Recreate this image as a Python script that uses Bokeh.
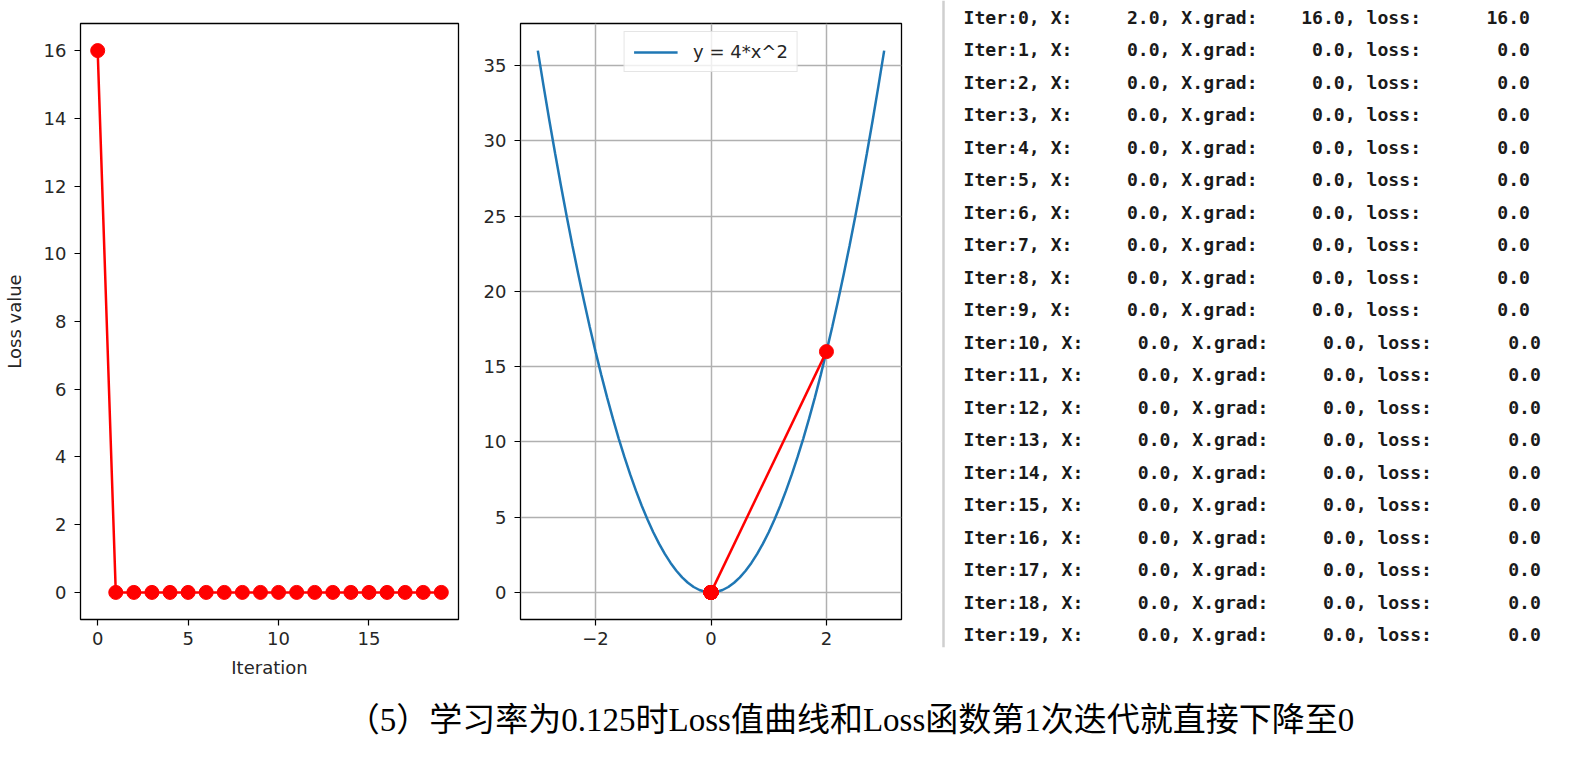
from bokeh.plotting import figure
from bokeh.models import Range1d, FixedTicker, Legend, LegendItem, ColumnDataSource
from bokeh.layouts import column, row
from bokeh.embed import file_html
from bokeh.resources import INLINE
from bokeh.core.properties import value

# ---------------- data ----------------
iterations = [0, 1, 2, 3, 4, 5, 6, 7, 8, 9, 10, 11, 12, 13, 14, 15, 16, 17, 18, 19]
x_values = [2.0, 0.0, 0.0, 0.0, 0.0, 0.0, 0.0, 0.0, 0.0, 0.0,
            0.0, 0.0, 0.0, 0.0, 0.0, 0.0, 0.0, 0.0, 0.0, 0.0]
grad_values = [16.0, 0.0, 0.0, 0.0, 0.0, 0.0, 0.0, 0.0, 0.0, 0.0,
               0.0, 0.0, 0.0, 0.0, 0.0, 0.0, 0.0, 0.0, 0.0, 0.0]
loss_values = [16.0, 0.0, 0.0, 0.0, 0.0, 0.0, 0.0, 0.0, 0.0, 0.0,
               0.0, 0.0, 0.0, 0.0, 0.0, 0.0, 0.0, 0.0, 0.0, 0.0]

curve_x = [-3.0, -2.9, -2.8, -2.7, -2.6, -2.5, -2.4, -2.3, -2.2, -2.1,
           -2.0, -1.9, -1.8, -1.7, -1.6, -1.5, -1.4, -1.3, -1.2, -1.1,
           -1.0, -0.9, -0.8, -0.7, -0.6, -0.5, -0.4, -0.3, -0.2, -0.1,
           0.0, 0.1, 0.2, 0.3, 0.4, 0.5, 0.6, 0.7, 0.8, 0.9,
           1.0, 1.1, 1.2, 1.3, 1.4, 1.5, 1.6, 1.7, 1.8, 1.9,
           2.0, 2.1, 2.2, 2.3, 2.4, 2.5, 2.6, 2.7, 2.8, 2.9, 3.0]
curve_y = [36.0, 33.64, 31.36, 29.16, 27.04, 25.0, 23.04, 21.16, 19.36, 17.64,
           16.0, 14.44, 12.96, 11.56, 10.24, 9.0, 7.84, 6.76, 5.76, 4.84,
           4.0, 3.24, 2.56, 1.96, 1.44, 1.0, 0.64, 0.36, 0.16, 0.04,
           0.0, 0.04, 0.16, 0.36, 0.64, 1.0, 1.44, 1.96, 2.56, 3.24,
           4.0, 4.84, 5.76, 6.76, 7.84, 9.0, 10.24, 11.56, 12.96, 14.44,
           16.0, 17.64, 19.36, 21.16, 23.04, 25.0, 27.04, 29.16, 31.36, 33.64, 36.0]

loss_xticks = [0, 5, 10, 15]
loss_yticks = [0, 2, 4, 6, 8, 10, 12, 14, 16]
curve_xticks = [-2, 0, 2]
curve_xtick_labels = {-2: "\u22122", 0: "0", 2: "2"}
curve_yticks = [0, 5, 10, 15, 20, 25, 30, 35]

legend_label = "y = 4*x^2"
caption = "\uff085\uff09学习率为0.125时Loss值曲线和Loss函数第1次迭代就直接下降至0"

# ---------------- styles ----------------
FONT = "DejaVu Sans"
TXT = "#262626"
RED = "#ff0000"
BLUE = "#1f77b4"
TICK_FS = "18px"
ROW_H = 680


def style_axes(p):
    p.outline_line_color = "#000000"
    p.outline_line_width = 1.3
    p.background_fill_color = "white"
    p.border_fill_color = "white"
    for ax in p.axis:
        ax.axis_line_color = None
        ax.major_tick_in = 0
        ax.major_tick_out = 6
        ax.major_tick_line_color = "#000000"
        ax.major_tick_line_width = 1.2
        ax.minor_tick_line_color = None
        ax.major_label_text_font = FONT
        ax.major_label_text_font_size = TICK_FS
        ax.major_label_text_color = TXT
        ax.axis_label_text_font = FONT
        ax.axis_label_text_font_size = TICK_FS
        ax.axis_label_text_font_style = "normal"
        ax.axis_label_text_color = TXT
    p.xaxis.major_label_standoff = 6
    p.yaxis.major_label_standoff = 8


# ---------------- left: loss curve ----------------
p1 = figure(width=468, height=ROW_H, output_backend="svg", toolbar_location=None,
            x_range=Range1d(-0.95, 19.95), y_range=Range1d(-0.8, 16.8))
p1.min_border_left = 76
p1.min_border_right = 10
p1.min_border_top = 23
p1.min_border_bottom = 61
p1.grid.visible = False
style_axes(p1)
p1.xaxis.ticker = FixedTicker(ticks=loss_xticks)
p1.yaxis.ticker = FixedTicker(ticks=loss_yticks)
p1.xaxis.axis_label = "Iteration"
p1.yaxis.axis_label = "Loss value"
p1.xaxis.axis_label_standoff = 9
p1.yaxis.axis_label_standoff = 16
src1 = ColumnDataSource(dict(it=iterations, loss=loss_values))
p1.line("it", "loss", source=src1, line_color=RED, line_width=2.5)
p1.scatter("it", "loss", source=src1, size=14, fill_color=RED, line_color=RED)

# ---------------- middle: function curve ----------------
p2 = figure(width=453, height=ROW_H, output_backend="svg", toolbar_location=None,
            x_range=Range1d(-3.3, 3.3), y_range=Range1d(-1.8, 37.8))
p2.min_border_left = 52
p2.min_border_right = 20
p2.min_border_top = 23
p2.min_border_bottom = 61
style_axes(p2)
p2.xaxis.ticker = FixedTicker(ticks=curve_xticks)
p2.xaxis.major_label_overrides = curve_xtick_labels
p2.yaxis.ticker = FixedTicker(ticks=curve_yticks)
p2.grid.grid_line_color = "#b0b0b0"
p2.grid.grid_line_width = 1.5
src_curve = ColumnDataSource(dict(x=curve_x, y=curve_y))
r_curve = p2.line("x", "y", source=src_curve, line_color=BLUE, line_width=2.5)
src_path = ColumnDataSource(dict(x=x_values, y=loss_values))
p2.line("x", "y", source=src_path, line_color=RED, line_width=2.5)
p2.scatter("x", "y", source=src_path, size=14, fill_color=RED, line_color=RED)
legend = Legend(items=[LegendItem(label=legend_label, renderers=[r_curve])],
                location="top_center", margin=8, padding=9,
                glyph_width=44, glyph_height=18, label_height=18,
                label_standoff=16,
                label_text_font=FONT, label_text_font_size=TICK_FS,
                label_text_color=TXT,
                border_line_color="#cccccc", border_line_width=1.2,
                background_fill_alpha=0.8)
p2.add_layout(legend)

# ---------------- right: console log ----------------
p3 = figure(width=649, height=ROW_H, output_backend="svg", toolbar_location=None,
            x_axis_location=None, y_axis_location=None,
            x_range=Range1d(0, 649), y_range=Range1d(20.409, -0.514))
try:
    p3.frame_align = False
except Exception:
    pass
p3.min_border_left = 0
p3.min_border_right = 0
p3.min_border_top = 0
p3.min_border_bottom = 0
p3.grid.visible = False
p3.outline_line_color = None
lines = []
for i, xv, gv, lv in zip(iterations, x_values, grad_values, loss_values):
    s = f"Iter:{i}, X:{xv:8.1f}, X.grad:{gv:8.1f}, loss:{lv:10.1f}"
    lines.append(s.replace(" ", "\u00a0"))
text_x = [42] * len(lines)
src3 = ColumnDataSource(dict(x=text_x, y=iterations, t=lines))
p3.segment(x0=[22], y0=[-0.514], x1=[22], y1=[19.385],
           line_color="#cfcfcf", line_width=2.5)
p3.text("x", "y", text="t", source=src3, text_font=value("DejaVu Sans Mono"),
        text_font_size="18.1px", text_font_style="bold", text_color="#1a1a1a",
        text_align="left", text_baseline="middle")

# ---------------- caption ----------------
CAP_H = 76
p4 = figure(width=1570, height=CAP_H, output_backend="svg", toolbar_location=None,
            x_axis_location=None, y_axis_location=None,
            x_range=Range1d(0, 1570), y_range=Range1d(0, CAP_H))
p4.min_border_left = 0
p4.min_border_right = 0
p4.min_border_top = 0
p4.min_border_bottom = 0
p4.grid.visible = False
p4.outline_line_color = None
p4.text(x=[850], y=[37], text=[caption],
        text_font=value("'Liberation Serif', 'Noto Sans CJK SC'"),
        text_font_size="33px", text_color="#000000",
        text_align="center", text_baseline="middle")

layout = column(row(p1, p2, p3), p4)
open("out.html", "w").write(file_html(layout, INLINE))
